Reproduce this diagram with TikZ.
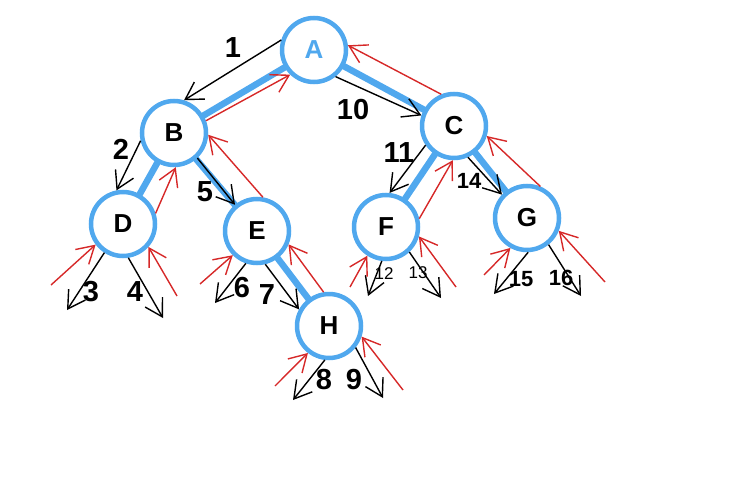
\documentclass[tikz,border=0pt]{standalone}
\usepackage{fontspec}
\setmainfont{Liberation Sans}
\usepackage{tikz}
\usetikzlibrary{arrows.meta}

\definecolor{treeblue}{RGB}{80,168,238}
\definecolor{backred}{RGB}{214,40,40}

\tikzset{
  vertex/.style={circle, draw=treeblue, fill=white, line width=4.5pt, minimum size=64pt, inner sep=0pt, font=\fontsize{26}{26}\selectfont\bfseries},
  treeedge/.style={treeblue, line width=6.5pt},
  down/.style={black, line width=1.4pt, -{Straight Barb[length=17pt,width=20pt]}},
  up/.style={backred, line width=1.4pt, -{Straight Barb[length=17pt,width=20pt]}},
  biglabel/.style={font=\fontsize{29}{29}\selectfont\bfseries},
  midlabel/.style={font=\fontsize{22}{22}\selectfont\bfseries},
  smalllabel/.style={font=\fontsize{17}{17}\selectfont}
}

\begin{document}
\begin{tikzpicture}[x=1pt, y=-1pt]
        \useasboundingbox (0,0) rectangle (735,476);

        % tree edges first, circles on top
        \coordinate (a0) at (314,50);
        \coordinate (b0) at (174,133);
        \coordinate (c0) at (454,126);
        \coordinate (d0) at (123,224);
        \coordinate (e0) at (257,231);
        \coordinate (f0) at (386,227);
        \coordinate (g0) at (527,218);
        \coordinate (h0) at (329,326);

        \path[treeedge]
        (a0) edge (b0)
        (a0) edge (c0)
        (b0) edge (d0)
        (b0) edge (e0)
        (c0) edge (f0)
        (c0) edge (g0)
        (e0) edge (h0);

        \node[vertex, text=treeblue](A) at (a0){A};
        \node[vertex](B) at (b0){B};
        \node[vertex](C) at (c0){C};
        \node[vertex](D) at (d0){D};
        \node[vertex](E) at (e0){E};
        \node[vertex](F) at (f0){F};
        \node[vertex](G) at (g0){G};
        \node[vertex](H) at (h0){H};

        % free ends of the empty subtrees
        \coordinate (n3) at (67,310);
        \coordinate (n4) at (163,318);
        \coordinate (n6) at (215,303);
        \coordinate (n8) at (293,400);
        \coordinate (n9) at (383,398);
        \coordinate (n12) at (368,296);
        \coordinate (n13) at (441,298);
        \coordinate (n15) at (494,294);
        \coordinate (n16) at (581,296);

        \coordinate (r3) at (51,285);
        \coordinate (r4) at (177,296);
        \coordinate (r6) at (200,284);
        \coordinate (r8) at (275,386);
        \coordinate (r9) at (403,390);
        \coordinate (r12) at (350,287);
        \coordinate (r13) at (456,287);
        \coordinate (r15) at (484,275);
        \coordinate (r16) at (605,282);

        % going down
        \path[down]
        (A.163) edge (B.73)
        (B.193) edge (D.101)
        (D.237) edge (n3)
        (D.279) edge (n4)
        (B.313) edge (E.130)
        (E.251) edge (n6)
        (E.284) edge (H.151)
        (H.263) edge (n8)
        (H.321) edge (n9)
        (A.309) edge (C.162)
        (C.214) edge (F.84)
        (F.263) edge (n12)
        (F.313) edge (n13)
        (C.294) edge (G.137)
        (G.272) edge (n15)
        (G.309) edge (n16);

        % coming back up
        \path[up]
        (B.21) edge (A.226)
        (D.18) edge (B.273)
        (E.80) edge (B.357)
        (H.99) edge (E.337)
        (C.112) edge (A.8)
        (F.14) edge (C.268)
        (G.67) edge (C.343)
        (r3) edge (D.217)
        (r4) edge (D.318)
        (r6) edge (E.225)
        (r8) edge (H.232)
        (r9) edge (H.342)
        (r12) edge (F.237)
        (r13) edge (F.344)
        (r15) edge (G.241)
        (r16) edge (G.338);

        % step numbers
        \node[biglabel](l1) at (233,48){1};
        \node[biglabel](l2) at (121,149){2};
        \node[biglabel](l3) at (91,292){3};
        \node[biglabel](l4) at (135,292){4};
        \node[biglabel](l5) at (205,192){5};
        \node[biglabel](l6) at (242,288){6};
        \node[biglabel](l7) at (267,295){7};
        \node[biglabel](l8) at (324,380){8};
        \node[biglabel](l9) at (354,380){9};
        \node[biglabel](l10) at (353,110){10};
        \node[biglabel](l11) at (399,153){11};
        \node[smalllabel](l12) at (384,274){12};
        \node[smalllabel](l13) at (418,273){13};
        \node[midlabel](l14) at (469,181){14};
        \node[midlabel](l15) at (521,279){15};
        \node[midlabel](l16) at (561,278){16};
\end{tikzpicture}
\end{document}
